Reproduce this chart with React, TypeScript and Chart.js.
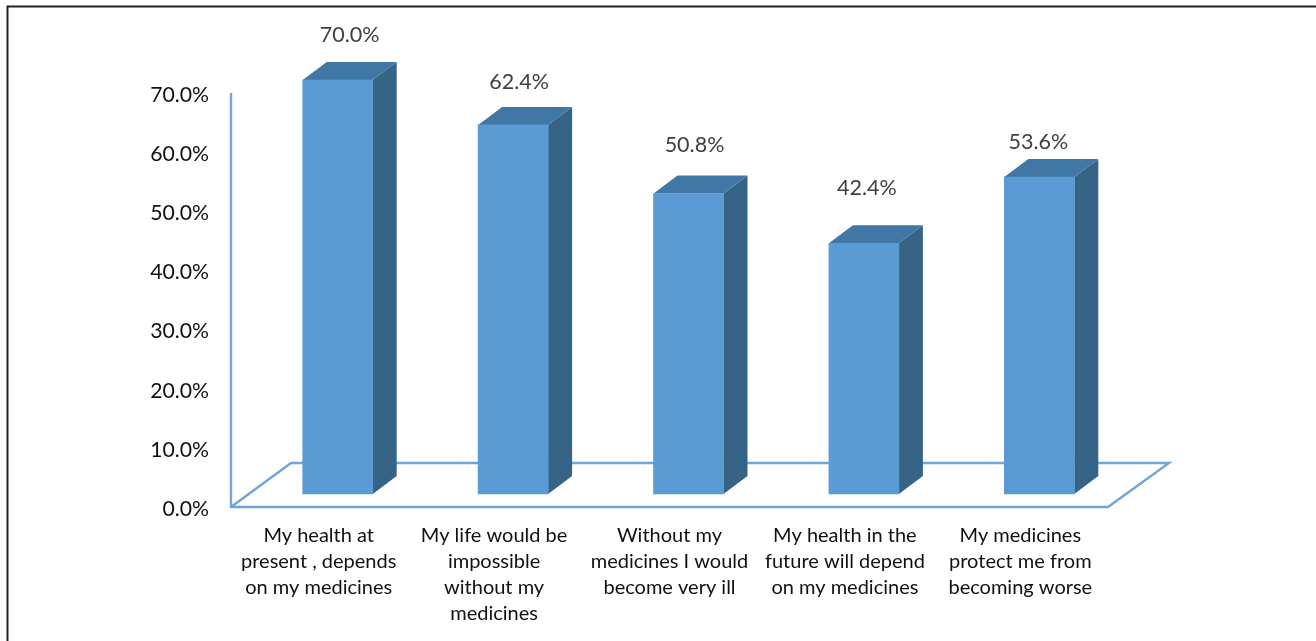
import React, { useEffect, useRef } from "react";
import { Chart, registerables } from "chart.js";

Chart.register(...registerables);

const categories: string[][] = [
  ["My health at", "present , depends", "on my medicines"],
  ["My life would be", "impossible", "without my", "medicines"],
  ["Without my", "medicines I would", "become very ill"],
  ["My health in the", "future will depend", "on my medicines"],
  ["My medicines", "protect me from", "becoming worse"],
];
const values: number[] = [70.0, 62.4, 50.8, 42.4, 53.6];
const labelShiftX: number[] = [12, 6, 6, 3, -1];
const labelShiftY: number[] = [45, 43, 48, 55, 35];

const FONT = "Lato, 'Open Sans', sans-serif";
const FRONT = "#5B9BD5";
const SIDE = "#356487";
const TOP = "#4177A5";
const LINE = "#6FA5D9";
const DX = 24;
const DY = 18;
const LIFT = 13;
const SHIFT = 19;

const frame = {
  id: "frame",
  beforeDraw(chart: any) {
    const { ctx, width, height } = chart;
    ctx.save();
    ctx.fillStyle = "#fff";
    ctx.fillRect(0, 0, width, height);
    ctx.strokeStyle = "#222";
    ctx.lineWidth = 2;
    ctx.beginPath();
    ctx.moveTo(7.5, height);
    ctx.lineTo(7.5, 6.5);
    ctx.lineTo(width, 6.5);
    ctx.stroke();
    ctx.restore();
  },
};

const floor = {
  id: "floor",
  beforeDatasetsDraw(chart: any) {
    const { ctx, chartArea: a } = chart;
    ctx.save();
    ctx.strokeStyle = LINE;
    ctx.lineWidth = 2.4;
    ctx.lineJoin = "miter";
    ctx.beginPath();
    ctx.moveTo(a.left, a.top);
    ctx.lineTo(a.left, a.bottom);
    ctx.lineTo(a.right, a.bottom);
    ctx.lineTo(a.right + 61, a.bottom - 44);
    ctx.lineTo(a.left + 60, a.bottom - 44);
    ctx.lineTo(a.left, a.bottom);
    ctx.stroke();
    ctx.restore();
  },
};

const bars3d = {
  id: "bars3d",
  beforeDatasetDraw(chart: any) {
    const { ctx } = chart;
    ctx.save();
    ctx.translate(SHIFT, -LIFT);
    chart.getDatasetMeta(0).data.forEach((bar: any) => {
      const l = bar.x - bar.width / 2;
      const r = bar.x + bar.width / 2;
      ctx.fillStyle = SIDE;
      ctx.beginPath();
      ctx.moveTo(r, bar.y);
      ctx.lineTo(r + DX, bar.y - DY);
      ctx.lineTo(r + DX, bar.base - DY);
      ctx.lineTo(r, bar.base);
      ctx.closePath();
      ctx.fill();
      ctx.fillStyle = TOP;
      ctx.beginPath();
      ctx.moveTo(l, bar.y);
      ctx.lineTo(l + DX, bar.y - DY);
      ctx.lineTo(r + DX, bar.y - DY);
      ctx.lineTo(r, bar.y);
      ctx.closePath();
      ctx.fill();
    });
  },
  afterDatasetDraw(chart: any) {
    const { ctx } = chart;
    ctx.restore();
    ctx.save();
    ctx.fillStyle = "#404040";
    ctx.font = `21.5px ${FONT}`;
    ctx.textAlign = "center";
    ctx.textBaseline = "middle";
    chart.getDatasetMeta(0).data.forEach((bar: any, i: number) => {
      ctx.fillText(
        `${values[i].toFixed(1)}%`,
        bar.x + SHIFT + labelShiftX[i],
        bar.y - LIFT - labelShiftY[i],
      );
    });
    ctx.restore();
  },
};

export default function App() {
  const ref = useRef<HTMLCanvasElement>(null);
  useEffect(() => {
    document.body.style.margin = "0";
    const chart = new Chart(ref.current!, {
      type: "bar",
      data: {
        labels: categories as any,
        datasets: [
          {
            data: values,
            backgroundColor: FRONT,
            borderWidth: 0,
            barThickness: 70,
          },
        ],
      },
      options: {
        animation: false,
        responsive: false,
        clip: false as any,
        layout: { padding: { left: 0, top: 93, right: 208, bottom: 0 } },
        plugins: { legend: { display: false }, tooltip: { enabled: false } },
        scales: {
          x: {
            offset: true,
            grid: { display: false },
            border: { display: false },
            afterFit(s: any) { s.height = 134; },
            ticks: {
              color: "#111",
              font: { family: FONT, size: 20, lineHeight: 1.3 },
              maxRotation: 0,
              autoSkip: false,
              padding: 8,
            },
          },
          y: {
            min: 0,
            max: 70,
            afterFit(s: any) { s.width = 231; },
            grid: { display: false },
            border: { display: false },
            ticks: {
              stepSize: 10,
              color: "#111",
              font: { family: FONT, size: 21.2 },
              padding: 14,
              labelOffset: 2,
              callback: (v: any) => `${Number(v).toFixed(1)}%`,
            },
          },
        },
      },
      plugins: [frame, floor, bars3d],
    });
    return () => chart.destroy();
  }, []);
  return <canvas ref={ref} width={1316} height={641} style={{ display: "block" }} />;
}
